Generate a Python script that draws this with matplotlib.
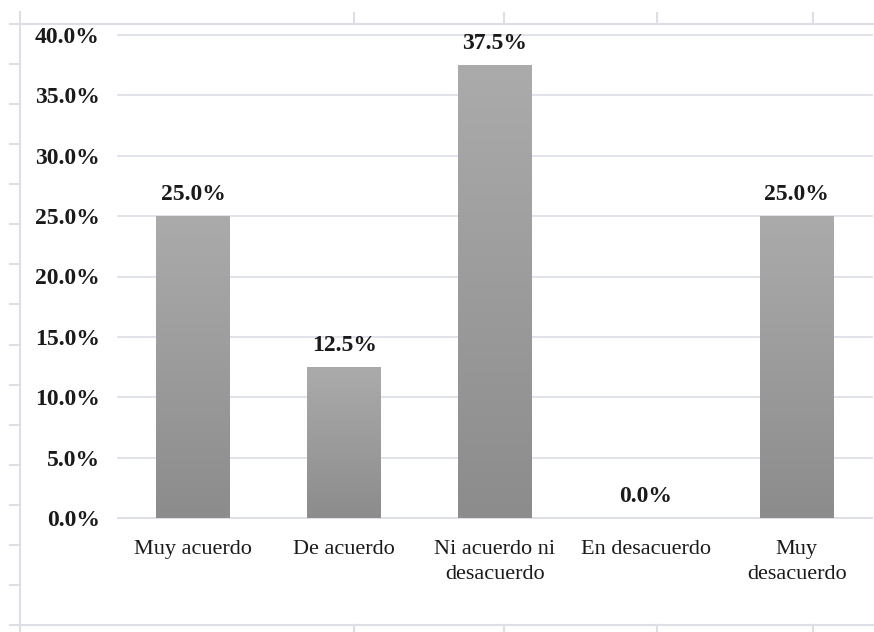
import matplotlib
matplotlib.use("Agg")
import matplotlib.pyplot as plt
import numpy as np
from matplotlib.lines import Line2D
from matplotlib.colors import LinearSegmentedColormap

categories = ["Muy acuerdo", "De acuerdo", "Ni acuerdo ni\ndesacuerdo", "En desacuerdo", "Muy\ndesacuerdo"]
values = [25.0, 12.5, 37.5, 0.0, 25.0]
yticks = [0, 5, 10, 15, 20, 25, 30, 35, 40]

plt.rcParams['font.family'] = ['Liberation Serif', 'DejaVu Serif']

W, H = 874, 632
fig = plt.figure(figsize=(W/100, H/100), dpi=100)
fig.patch.set_facecolor("white")

def fx(px): return px / W
def fy(py): return 1 - py / H

frame_c = "#dcdfe5"
# outer frame lines
fig.add_artist(Line2D([fx(20), fx(20)], [fy(12), fy(632)], color=frame_c, lw=1.5))
fig.add_artist(Line2D([fx(20), fx(874)], [fy(24), fy(24)], color=frame_c, lw=1.5))
fig.add_artist(Line2D([fx(20), fx(874)], [fy(625), fy(625)], color=frame_c, lw=1.5))
for yy in np.linspace(24, 625, 16):
    fig.add_artist(Line2D([fx(10), fx(20)], [fy(yy), fy(yy)], color=frame_c, lw=1.5))
for xx in [354, 504, 657, 813]:
    fig.add_artist(Line2D([fx(xx), fx(xx)], [fy(13), fy(24)], color=frame_c, lw=1.5))
    fig.add_artist(Line2D([fx(xx), fx(xx)], [fy(625), fy(632)], color=frame_c, lw=1.5))

ax = fig.add_axes([fx(118), fy(518), fx(872) - fx(118), fy(35) - fy(518)])
x = np.arange(len(categories))
bw = 0.49
bars = ax.bar(x, values, width=bw, color="none", edgecolor="none", zorder=3)

cmap = LinearSegmentedColormap.from_list("g", ["#8c8c8c", "#ababab"])
grad = np.linspace(0, 1, 256).reshape(-1, 1)
for b in bars:
    h = b.get_height()
    if h <= 0:
        continue
    x0 = b.get_x()
    ax.imshow(grad, extent=(x0, x0 + b.get_width(), 0, h), origin="lower",
              aspect="auto", cmap=cmap, zorder=3)

txt_c = "#1a1a1a"
ax.set_xlim(-0.5, len(categories) - 0.5)
ax.set_ylim(0, 40)
ax.set_yticks(yticks)
ax.set_yticklabels([f"{v:.1f}%" for v in yticks], fontsize=17, fontweight="bold", color=txt_c)
ax.set_xticks(x)
ax.set_xticklabels(categories, fontsize=16, color=txt_c, linespacing=1.4)
ax.tick_params(axis="y", length=0, pad=13)
ax.tick_params(axis="x", length=0, pad=16)
ax.yaxis.grid(True, color="#dde0e7", lw=1.3, zorder=0)
for gl in ax.get_ygridlines():
    gl.set_clip_on(False)
ax.set_axisbelow(True)
for s in ["top", "right", "left"]:
    ax.spines[s].set_visible(False)
ax.spines["bottom"].set_color("#dde0e7")
ax.spines["bottom"].set_linewidth(1.3)

for xi, v in zip(x, values):
    ax.text(xi, v + 0.9, f"{v:.1f}%", ha="center", va="bottom", fontsize=17,
            fontweight="bold", color=txt_c, zorder=4)

fig.savefig("out.png", dpi=100)
